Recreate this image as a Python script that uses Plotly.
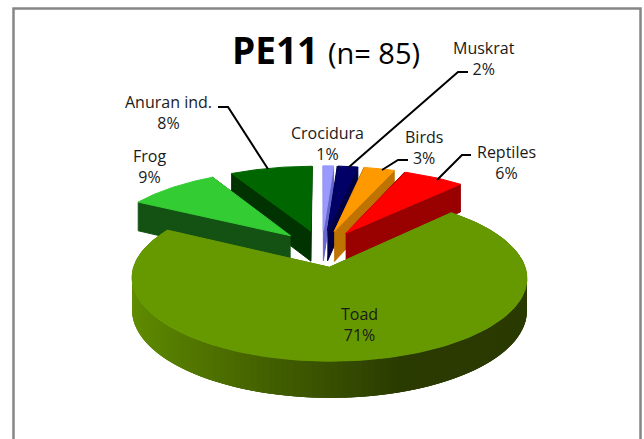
import numpy as np
import plotly.graph_objects as go

# slice data, clockwise from 12 o'clock
labels = ['Crocidura', 'Muskrat', 'Birds', 'Reptiles', 'Toad', 'Frog', 'Anuran ind.']
percents = [1, 2, 3, 6, 71, 9, 8]
top_colors = ['#9999ff', '#000066', '#ff9900', '#ff0000', '#669900', '#33cc33', '#006600']
wall_colors = ['#6666cc', '#000044', '#bf7300', '#990000', '#5a8500', '#145214', '#003300']
draw_order = [0, 1, 2, 3, 6, 5, 4]

# fake 3d projection of the exploded pie
X0, Y0 = 322, 248.5
SCALE_X, SCALE_Y = 190, 77
PERSP = 0.125
EXPLODE = 0.24
DEPTH = 31


def project(x, y, z=0.0):
    w = 1 + PERSP * y
    return X0 + SCALE_X * x / w, Y0 - SCALE_Y * y / w + DEPTH * z / w


def poly(fig, xs, ys, color, width=1):
    fig.add_trace(go.Scatter(x=xs, y=ys, mode='lines', fill='toself', fillcolor=color,
                             line=dict(color=color, width=width), hoverinfo='skip'))


def mix(c1, c2, t):
    return 'rgb(%d,%d,%d)' % tuple(a + (b - a) * t for a, b in zip(c1, c2))


def draw_slice(fig, start, end, top, wall, gradient=False):
    mid = (start + end) / 2
    ox, oy = EXPLODE * np.sin(mid), EXPLODE * np.cos(mid)
    angles = np.linspace(start, end, 160)
    rx, ry = ox + np.sin(angles), oy + np.cos(angles)

    # radial walls
    for a in (start, end):
        ex, ey = ox + np.sin(a), oy + np.cos(a)
        pts = [project(ox, oy), project(ex, ey), project(ex, ey, 1), project(ox, oy, 1)]
        poly(fig, [p[0] for p in pts], [p[1] for p in pts], wall)

    # rim, cut in strips when it needs the shading
    # strips overlap the next ones so no seams show between them
    n = len(angles) - 1
    for i in range(n):
        if np.cos(angles[i]) > 0.3 and not gradient:
            continue
        color = wall
        if gradient:
            x_pos = np.sin(angles[i])
            t = np.clip((x_pos + 1) / 1.35, 0, 1)
            color = mix((98, 143, 0), (42, 58, 0), t)
        j = min(i + 3, n)
        pts = [project(rx[i], ry[i]), project(rx[j], ry[j]),
               project(rx[j], ry[j], 1), project(rx[i], ry[i], 1)]
        poly(fig, [p[0] for p in pts], [p[1] for p in pts], color, width=0)

    # top face
    tx, ty = project(np.r_[ox, rx, ox], np.r_[oy, ry, oy])
    poly(fig, tx, ty, top)


edges = np.cumsum([0] + percents) / sum(percents) * 2 * np.pi

fig = go.Figure()
for idx in draw_order:
    draw_slice(fig, edges[idx], edges[idx + 1], top_colors[idx], wall_colors[idx],
               gradient=labels[idx] == 'Toad')

label_font = dict(family='Open Sans', size=16, color='#1a1a1a')
label_spots = {
    'Crocidura': (327, 143), 'Muskrat': (484, 58), 'Birds': (424, 147),
    'Reptiles': (506, 162), 'Toad': (359, 324), 'Frog': (149, 166),
    'Anuran ind.': (168, 112),
}
annotations = [
    dict(x=label_spots[n][0], y=label_spots[n][1], text='%s<br>%d%%' % (n, p),
         showarrow=False, font=label_font, xref='x', yref='y')
    for n, p in zip(labels, percents)
]
annotations.append(dict(x=326, y=49, xref='x', yref='y', showarrow=False,
                        text='<b>PE11</b> <span style="font-size:29px">(n= 85)</span>',
                        font=dict(family='Open Sans', size=37, color='black')))

leaders = [
    [(218, 107), (228, 107), (268, 169)],
    [(468, 72), (458, 72), (349, 167)],
    [(408, 160), (398, 160), (382, 170)],
    [(471, 155), (462, 155), (437, 180)],
]
shapes = [dict(type='path', xref='x', yref='y', line=dict(color='black', width=2),
               path='M ' + ' L '.join('%d,%d' % p for p in pts))
          for pts in leaders]
shapes.append(dict(type='rect', xref='x', yref='y', x0=13.5, x1=640.5, y0=8.5, y1=445,
                   line=dict(color='#868686', width=2.5)))

fig.update_layout(
    width=644,
    height=439,
    margin=dict(l=0, r=0, t=0, b=0),
    paper_bgcolor='white',
    plot_bgcolor='white',
    showlegend=False,
    xaxis=dict(range=[0, 644], visible=False),
    yaxis=dict(range=[439, 0], visible=False),
    annotations=annotations,
    shapes=shapes
)
# page default margin would push the chart off by 8px
fig.write_html("out.html", config=dict(displayModeBar=False),
               post_script="document.body.style.margin='0';document.body.style.overflow='hidden';")
